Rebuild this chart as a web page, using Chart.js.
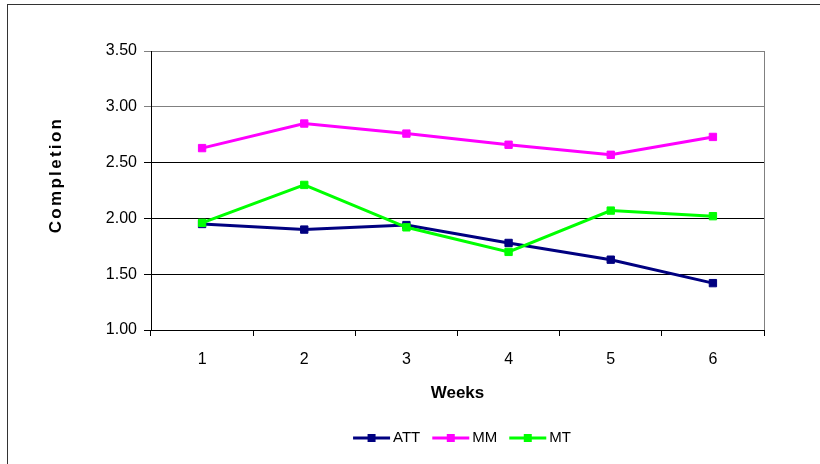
<!DOCTYPE html>
<html><head><meta charset="utf-8">
<script src="https://cdn.jsdelivr.net/npm/chart.js@4"></script>
<style>html,body{margin:0;padding:0;background:#fff}#wrap{width:820px;height:464px;position:relative}</style>
</head><body><div id="wrap"><canvas id="c" width="820" height="464"></canvas></div>
<script>
const weeks = ['1', '2', '3', '4', '5', '6'];
const attValues = [1.95, 1.90, 1.94, 1.78, 1.63, 1.42];
const mmValues = [2.63, 2.85, 2.76, 2.66, 2.57, 2.73];
const mtValues = [1.96, 2.30, 1.92, 1.70, 2.07, 2.02];
const yTickValues = [1.00, 1.50, 2.00, 2.50, 3.00, 3.50];
const seriesNames = ['ATT', 'MM', 'MT'];
const seriesColors = ['#000080', '#FF00FF', '#00FF00'];
const yTitleText = 'Completion';
const xTitleText = 'Weeks';

const FONT = '"Liberation Sans", Arial, sans-serif';

const frame = {
  id: 'frame',
  beforeDraw(chart) {
    const ctx = chart.ctx;
    ctx.save();
    ctx.fillStyle = '#fff';
    ctx.fillRect(0, 0, chart.width, chart.height);
    ctx.strokeStyle = '#333';
    ctx.lineWidth = 1;
    ctx.strokeRect(7.5, 4.5, 1000, 1000);
    ctx.restore();
  },
  beforeDatasetsDraw(chart) {
    const a = chart.chartArea, ctx = chart.ctx;
    ctx.save();
    ctx.strokeStyle = '#808080';
    ctx.lineWidth = 1;
    ctx.beginPath();
    ctx.moveTo(Math.round(a.right) + 0.5, a.top);
    ctx.lineTo(Math.round(a.right) + 0.5, a.bottom);
    ctx.stroke();
    ctx.restore();
  },
  afterDraw(chart) {
    // spaced-out y axis title, as in the reference
    const ctx = chart.ctx, a = chart.chartArea;
    ctx.save();
    ctx.font = 'bold 17px ' + FONT;
    if ('letterSpacing' in ctx) ctx.letterSpacing = '2.3px';
    ctx.fillStyle = '#000';
    ctx.textAlign = 'center';
    ctx.textBaseline = 'middle';
    ctx.translate(56, 175);
    ctx.rotate(-Math.PI / 2);
    ctx.fillText(yTitleText, 0, 0);
    ctx.restore();
  }
};

const legendPlugin = {
  id: 'customLegend',
  afterDraw(chart) {
    const ctx = chart.ctx;
    ctx.save();
    ctx.font = '15px ' + FONT;
    ctx.textBaseline = 'middle';
    const lineLen = 37, gapText = 3, gapItem = 12, y = 438;
    const ds = chart.data.datasets;
    let total = 0;
    ds.forEach((d, i) => {
      total += lineLen + gapText + ctx.measureText(d.label).width;
      if (i < ds.length - 1) total += gapItem;
    });
    let x = 462 - total / 2;
    ds.forEach(d => {
      ctx.strokeStyle = d.borderColor;
      ctx.lineWidth = 3;
      ctx.beginPath();
      ctx.moveTo(x, y);
      ctx.lineTo(x + lineLen, y);
      ctx.stroke();
      ctx.fillStyle = d.borderColor;
      ctx.fillRect(x + lineLen / 2 - 4, y - 4, 8, 8);
      ctx.fillStyle = '#000';
      ctx.fillText(d.label, x + lineLen + gapText, y);
      x += lineLen + gapText + ctx.measureText(d.label).width + gapItem;
    });
    ctx.restore();
  }
};

const valuesList = [attValues, mmValues, mtValues];
const datasets = seriesNames.map((name, i) => ({
  label: name,
  data: valuesList[i],
  borderColor: seriesColors[i],
  backgroundColor: seriesColors[i],
  pointBackgroundColor: seriesColors[i],
  pointBorderColor: seriesColors[i],
  borderWidth: 3,
  pointStyle: 'rect',
  pointRadius: 5.2,
  pointBorderWidth: 1,
  tension: 0,
  order: 3 - i
}));

new Chart(document.getElementById('c'), {
  type: 'line',
  data: { labels: weeks, datasets },
  options: {
    responsive: false,
    animation: false,
    devicePixelRatio: 1,
    layout: { padding: { left: 10, top: 51, right: 56, bottom: 54 } },
    plugins: { legend: { display: false }, tooltip: { enabled: false } },
    scales: {
      x: {
        type: 'category',
        offset: true,
        grid: { offset: true, drawOnChartArea: false, drawTicks: true, tickLength: 6, color: '#000' },
        border: { color: '#000', width: 1 },
        ticks: { color: '#000', font: { family: FONT, size: 16 }, padding: 14, maxRotation: 0 },
        title: { display: true, text: xTitleText, color: '#000', font: { family: FONT, size: 17, weight: 'bold' }, padding: { top: 4, bottom: 6 } },
        afterFit(scale) { scale.height = 410 - 330; }
      },
      y: {
        min: 1, max: 3.5,
        afterBuildTicks(scale) { scale.ticks = yTickValues.map(v => ({ value: v })); },
        grid: {
          color: ctx => (ctx.tick && ctx.tick.value >= 3 ? '#808080' : '#000'),
          drawTicks: true, tickLength: 7
        },
        border: { color: '#000', width: 1 },
        ticks: { color: '#000', font: { family: FONT, size: 16 }, padding: 7, callback: v => Number(v).toFixed(2) },
        title: { display: false },
        afterFit(scale) { scale.width = 151 - 10; }
      }
    }
  },
  plugins: [frame, legendPlugin]
});
</script>
</body></html>
